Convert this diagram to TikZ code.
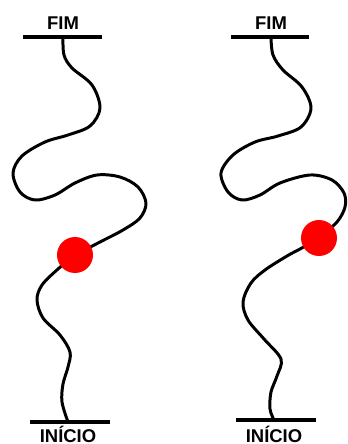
\documentclass[tikz,border=0pt]{standalone}
\usepackage{fontspec}
\setmainfont{Liberation Sans}
\usetikzlibrary{positioning}

\begin{document}
\begin{tikzpicture}[x=0.02cm,y=-0.02cm,font=\bfseries\fontsize{10.5}{12}\selectfont,
  barra/.style={line width=1.9pt},
  corda/.style={line width=1.7pt,line cap=round,line join=round},
  bola/.style={circle,fill=red,draw=none,inner sep=0pt,minimum size=0.72cm}]
\useasboundingbox (0,0) rectangle (348,444);
% fio da esquerda
\coordinate (topoL) at (63,37);
\coordinate (baseL) at (68,422);
\coordinate (centroL) at (75,255);
\node (fimL) at (63,23) {FIM};
\node[inner sep=0pt] (inicioL) at (68,434) {INÍCIO};
\draw[barra] (23,37) -- (102,37);
\draw[barra] (30,422) -- (110,422);
\draw[corda] plot[smooth,tension=0.55] coordinates {(topoL) (64,55) (72,68) (92,85) (100,108)
  (90,126) (68,135) (45,142) (22,156) (13,173) (20,192) (35,200) (55,195) (75,183) (97,175)
  (120,177) (138,187) (146,203) (140,218) (123,230) (100,242) (centroL)};
\draw[corda] plot[smooth,tension=0.55] coordinates {(centroL) (58,269) (42,285) (37,300)
  (43,318) (60,335) (70,352) (68,367) (63,384) (62,402) (baseL)};
\node[bola] (bolaL) at (centroL) {};
% fio da direita
\coordinate (topoR) at (271,37);
\coordinate (baseR) at (274,420);
\coordinate (centroR) at (319,238);
\node (fimR) at (271,23) {FIM};
\node[inner sep=0pt] (inicioR) at (274,434) {INÍCIO};
\draw[barra] (231,37) -- (309,37);
\draw[barra] (236,420) -- (316,420);
\draw[corda] plot[smooth,tension=0.55] coordinates {(topoR) (273,55) (283,70) (302,87) (311,108)
  (301,127) (278,136) (255,142) (233,155) (221,173) (228,192) (242,200) (260,195) (280,183)
  (310,175) (332,180) (344,193) (345,207) (337,222) (centroR)};
\draw[corda] plot[smooth,tension=0.55] coordinates {(centroR) (300,249) (287,256) (265,270)
  (251,283) (243,302) (248,320) (264,339) (281,359) (277,376) (271,392) (270,409) (baseR)};
\node[bola] (bolaR) at (centroR) {};
\end{tikzpicture}
\end{document}
